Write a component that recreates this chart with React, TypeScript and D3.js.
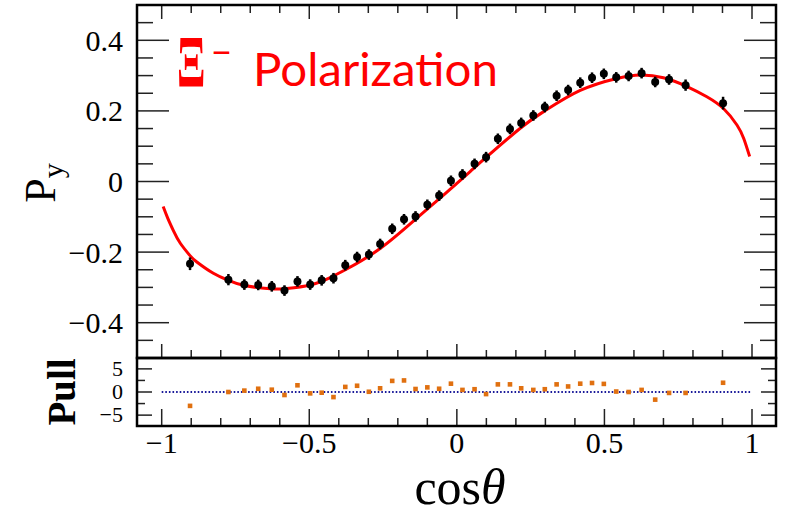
import React from "react";
import * as d3 from "d3";

// bin centres in cos(theta)
const cosBins = [
  -0.904, -0.774, -0.72, -0.673, -0.627, -0.584, -0.54, -0.497, -0.458, -0.418, -0.378, -0.338, -0.298, -0.26,
  -0.219, -0.179, -0.14, -0.1, -0.06, -0.02, 0.019, 0.06, 0.099, 0.139, 0.18, 0.218, 0.259, 0.298, 0.338, 0.377,
  0.418, 0.458, 0.498, 0.54, 0.582, 0.626, 0.672, 0.719, 0.775, 0.902,
];
const pyValues = [
  -0.233, -0.278, -0.292, -0.293, -0.297, -0.309, -0.283, -0.292, -0.28, -0.274, -0.237, -0.214, -0.207, -0.177,
  -0.134, -0.107, -0.099, -0.066, -0.04, 0.002, 0.02, 0.05, 0.069, 0.121, 0.149, 0.166, 0.187, 0.211, 0.243, 0.259,
  0.28, 0.294, 0.305, 0.295, 0.299, 0.307, 0.282, 0.289, 0.273, 0.222,
];
const pyErrors = [
  0.018, 0.016, 0.015, 0.015, 0.015, 0.015, 0.015, 0.015, 0.015, 0.015, 0.015, 0.015, 0.015, 0.015, 0.015, 0.015,
  0.015, 0.015, 0.015, 0.015, 0.015, 0.015, 0.015, 0.015, 0.015, 0.015, 0.015, 0.015, 0.015, 0.015, 0.015, 0.015,
  0.015, 0.015, 0.015, 0.015, 0.015, 0.015, 0.016, 0.018,
];
const pullValues = [
  -3.0, 0.0, 0.3, 0.7, 0.5, -0.65, 1.45, -0.3, -0.15, -1.1, 1.1, 1.35, 0.05, 0.8, 2.4, 2.5, 0.65, 1.0, 0.7, 1.8,
  0.45, 0.6, -0.45, 1.65, 1.65, 0.8, 0.45, 0.6, 1.65, 1.2, 1.8, 1.95, 1.75, 0.1, 0.0, 0.45, -1.65, -0.2, -0.2, 2.0,
];

// fit curve
const fitX = [
  -0.995, -0.98, -0.96, -0.937, -0.904, -0.881, -0.825, -0.774, -0.723, -0.633, -0.576, -0.497, -0.429, -0.373,
  -0.26, -0.136, -0.057, 0.0, 0.045, 0.099, 0.218, 0.298, 0.418, 0.542, 0.621, 0.7, 0.78, 0.847, 0.904, 0.949,
  0.972, 0.992,
];
const fitY = [
  -0.071, -0.103, -0.14, -0.175, -0.21, -0.228, -0.26, -0.28, -0.294, -0.304, -0.303, -0.293, -0.272, -0.248,
  -0.19, -0.104, -0.047, -0.005, 0.028, 0.068, 0.153, 0.2, 0.258, 0.292, 0.302, 0.294, 0.269, 0.24, 0.206, 0.16,
  0.122, 0.071,
];

const xTicks = [-1, -0.5, 0, 0.5, 1];
const xTickLabels = ["\u22121", "\u22120.5", "0", "0.5", "1"];
const yTicks = [-0.4, -0.2, 0, 0.2, 0.4];
const yTickLabels = ["\u22120.4", "\u22120.2", "0", "0.2", "0.4"];
const pullTicks = [-5, 0, 5];
const pullTickLabels = ["\u22125", "0", "5"];

const W = 787,
  H = 517;
const frame = { left: 137, right: 776, top: 5, mid: 358, bottom: 426 };
const serif = "'Liberation Serif', 'DejaVu Serif', serif";
const sans = "Lato, 'Open Sans', sans-serif";

export default function App() {
  const x = d3.scaleLinear().domain([-1, 1]).range([161.7, 752]);
  const y = d3.scaleLinear().domain([-0.5, 0.5]).range([frame.mid, frame.top]);
  const yp = d3.scaleLinear().domain([-7.35, 7.35]).range([frame.bottom, frame.mid]);

  const xMinor = d3.range(-10, 11).map((i) => i / 10);
  const yMinor = d3.range(-9, 10).map((i) => i * 0.05);
  const pMinor = [-5, -2.5, 0, 2.5, 5];

  const isMajorX = (v: number) => Math.abs(v * 2 - Math.round(v * 2)) < 1e-6;
  const isMajorY = (v: number) => Math.abs(v * 5 - Math.round(v * 5)) < 1e-6;

  const fitLine = d3
    .line<number>()
    .x((d) => x(d))
    .y((_, i) => y(fitY[i]))
    .curve(d3.curveNatural);

  const tick = "#222";

  return (
    <svg
      width={W}
      height={H}
      style={{ position: "fixed", left: 0, top: 0, background: "#fff" }}
      fontFamily={serif}
    >
      {/* ticks */}
      {xMinor.map((v) => {
        const len = isMajorX(v) ? 14 : 8;
        return (
          <g key={"xt" + v} stroke={tick} strokeWidth={1.5}>
            <line x1={x(v)} x2={x(v)} y1={frame.top} y2={frame.top + len} />
            <line x1={x(v)} x2={x(v)} y1={frame.mid} y2={frame.mid - len} />
            <line x1={x(v)} x2={x(v)} y1={frame.bottom} y2={frame.bottom - (isMajorX(v) ? 17 : 8)} />
          </g>
        );
      })}
      {yMinor.map((v) => {
        const len = isMajorY(v) ? 32 : 16;
        return (
          <g key={"yt" + v} stroke={tick} strokeWidth={1.5}>
            <line x1={frame.left} x2={frame.left + len} y1={y(v)} y2={y(v)} />
            <line x1={frame.right} x2={frame.right - len} y1={y(v)} y2={y(v)} />
          </g>
        );
      })}
      {pMinor.map((v) => {
        const len = v % 5 === 0 ? 15 : 8;
        return (
          <g key={"pt" + v} stroke={tick} strokeWidth={1.5}>
            <line x1={frame.left} x2={frame.left + len} y1={yp(v)} y2={yp(v)} />
            <line x1={frame.right} x2={frame.right - len} y1={yp(v)} y2={yp(v)} />
          </g>
        );
      })}

      {/* frames */}
      <rect
        x={frame.left}
        y={frame.top}
        width={frame.right - frame.left}
        height={frame.mid - frame.top}
        fill="none"
        stroke="#000"
        strokeWidth={2.5}
      />
      <rect
        x={frame.left}
        y={frame.mid}
        width={frame.right - frame.left}
        height={frame.bottom - frame.mid}
        fill="none"
        stroke="#000"
        strokeWidth={2.5}
      />

      {/* fit curve */}
      <path d={fitLine(fitX) || ""} fill="none" stroke="#ff0000" strokeWidth={3} />

      {/* data points */}
      {cosBins.map((c, i) => (
        <g key={"pt" + i}>
          <line
            x1={x(c)}
            x2={x(c)}
            y1={y(pyValues[i] - pyErrors[i])}
            y2={y(pyValues[i] + pyErrors[i])}
            stroke="#000"
            strokeWidth={2.5}
          />
          <circle cx={x(c)} cy={y(pyValues[i])} r={4} fill="#000" />
        </g>
      ))}

      {/* pull zero line */}
      <line
        x1={x(-1)}
        x2={x(1)}
        y1={yp(0)}
        y2={yp(0)}
        stroke="#1a1a9a"
        strokeWidth={2}
        strokeDasharray="1.6 2"
      />
      {cosBins.map((c, i) => (
        <rect key={"pl" + i} x={x(c) - 2.3} y={yp(pullValues[i]) - 2.3} width={4.6} height={4.6} fill="#e07010" />
      ))}

      {/* tick labels */}
      {yTicks.map((v, i) => (
        <text key={"yl" + v} x={123} y={y(v)} dy="0.35em" textAnchor="end" fontSize={30}>
          {yTickLabels[i]}
        </text>
      ))}
      {pullTicks.map((v, i) => (
        <text key={"pl" + v} x={123} y={yp(v)} dy="0.33em" textAnchor="end" fontSize={22}>
          {pullTickLabels[i]}
        </text>
      ))}
      {xTicks.map((v, i) => (
        <text key={"xl" + v} x={x(v)} y={453} textAnchor="middle" fontSize={30}>
          {xTickLabels[i]}
        </text>
      ))}

      {/* axis titles */}
      <text x={460} y={504} textAnchor="middle" fontSize={50}>
        cos<tspan fontStyle="italic">θ</tspan>
      </text>
      <text transform="translate(55,183) rotate(-90)" textAnchor="middle" fontSize={44}>
        P
        <tspan fontSize={30} dy={8}>
          y
        </tspan>
      </text>
      <text
        transform="translate(75,392) rotate(-90)"
        textAnchor="middle"
        fontSize={40}
        fontWeight="bold"
        textLength={67}
        lengthAdjust="spacingAndGlyphs"
      >
        Pull
      </text>

      {/* legend text */}
      <text transform="translate(177,87) scale(1,1.75)" fontSize={42} fontWeight="bold" fill="#ff0000">
        Ξ
      </text>
      <text x={211} y={66} fontSize={38} fill="#ff0000" fontFamily={sans} textLength={21} lengthAdjust="spacingAndGlyphs">
        −
      </text>
      <text x={253} y={86} fontSize={46} fill="#ff0000" fontFamily={sans} textLength={245} lengthAdjust="spacingAndGlyphs">
        Polarization
      </text>
    </svg>
  );
}
